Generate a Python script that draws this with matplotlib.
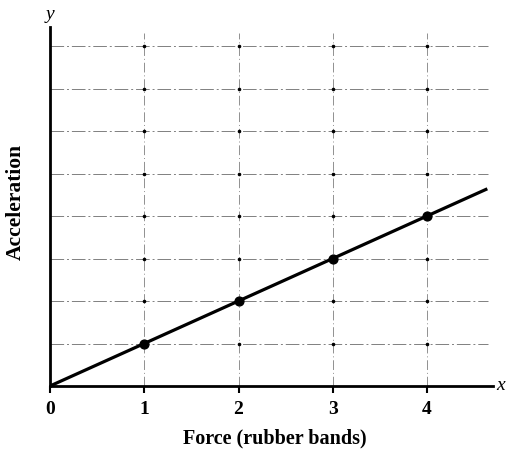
import matplotlib
matplotlib.use("Agg")
import matplotlib.pyplot as plt
import numpy as np

force = [1, 2, 3, 4]
acceleration = [1, 2, 3, 4]
x_ticks = [0, 1, 2, 3, 4]
x_tick_labels = ["0", "1", "2", "3", "4"]
y_grid = [1, 2, 3, 4, 5, 6, 7, 8]

plt.rcParams['font.family'] = ['Liberation Serif', 'DejaVu Serif']

fig = plt.figure(figsize=(5.16, 4.54), dpi=100)
W, H = 516, 454
x0, y0 = 50, 386
ux, uy = 94.25, 42.5
xmax, ymax = 4.7, 8.45
ax = fig.add_axes([x0 / W, (H - y0) / H, xmax * ux / W, ymax * uy / H])
ax.set_xlim(0, xmax)
ax.set_ylim(0, ymax)

# grid
for yv in y_grid:
    ax.plot([0, 4.65], [yv, yv], color='#808080', lw=0.7, ls=(0, (14, 3, 2, 3)), zorder=1)
for xv in x_ticks[1:]:
    ax.plot([xv, xv], [0, 8.3], color='#909090', lw=0.7, ls=(0, (10, 3, 1, 3)), zorder=1)
gx, gy = np.meshgrid(x_ticks[1:], y_grid)
ax.scatter(gx.ravel(), gy.ravel(), s=2.5, color='black', zorder=2)

# best-fit line through origin
slope = np.sum(np.array(force) * np.array(acceleration)) / np.sum(np.array(force) ** 2)
xl = np.array([0, 4.64])
ax.plot(xl, slope * xl, color='black', lw=2.3, zorder=3, solid_capstyle='butt')
ax.scatter(force, acceleration, s=40, color='black', zorder=4)

for s in ['top', 'right']:
    ax.spines[s].set_visible(False)
for s in ['left', 'bottom']:
    ax.spines[s].set_linewidth(2)
ax.set_xticks(x_ticks)
ax.set_xticklabels(x_tick_labels, fontsize=14, fontweight='bold')
ax.set_yticks([])
ax.tick_params(axis='x', direction='out', length=5, width=1.5, pad=6)

ax.text(xmax + 0.03, 0, "x", fontsize=14, style='italic', va='center', ha='left')
ax.text(0, ymax + 0.1, "y", fontsize=14, style='italic', va='bottom', ha='center')
fig.text(275 / W, 1 - 438 / H, "Force (rubber bands)", fontsize=14.5, fontweight='bold',
         ha='center', va='center')
fig.text(16 / W, 1 - 202 / H, "Acceleration", fontsize=15.5, fontweight='bold',
         ha='center', va='center', rotation=90)

fig.savefig("out.png", dpi=100)
